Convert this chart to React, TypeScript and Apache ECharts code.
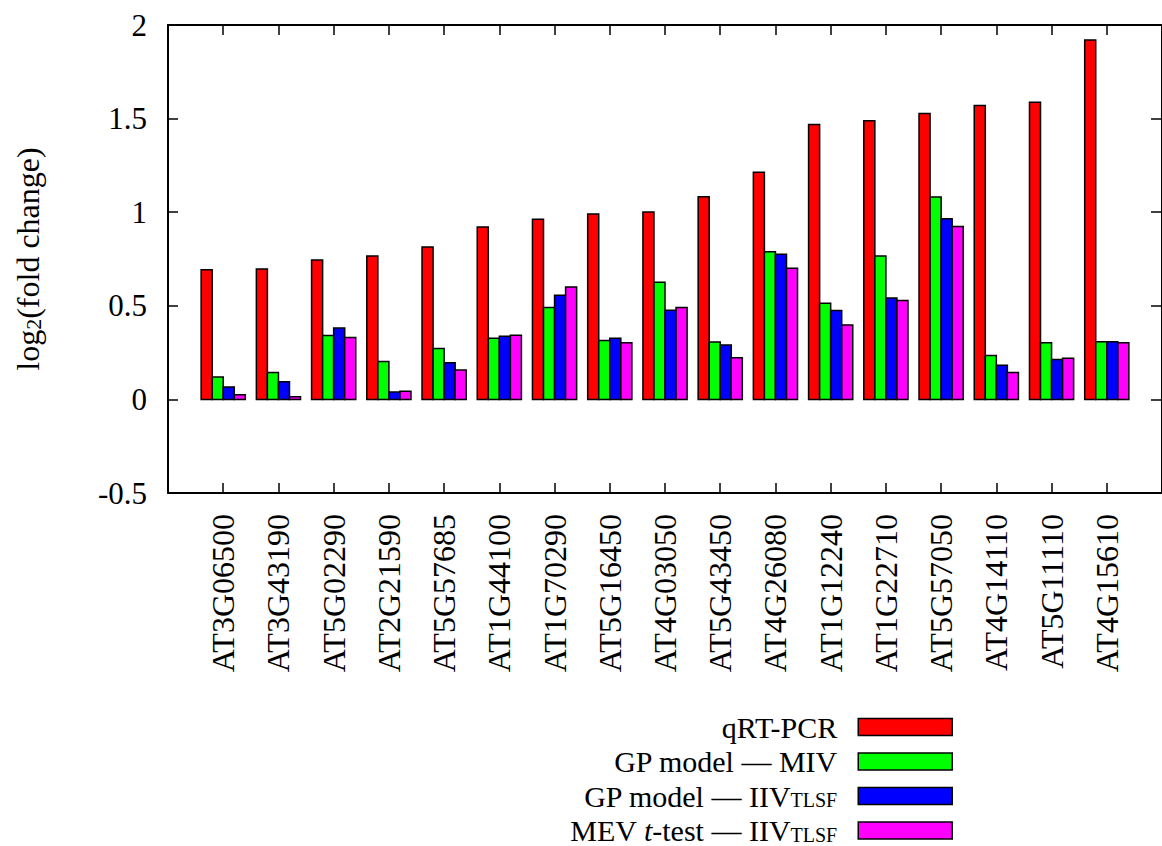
import React, { useEffect, useRef } from "react";
import * as echarts from "echarts";

const categories = [
  "AT3G06500", "AT3G43190", "AT5G02290", "AT2G21590", "AT5G57685", "AT1G44100",
  "AT1G70290", "AT5G16450", "AT4G03050", "AT5G43450", "AT4G26080", "AT1G12240",
  "AT1G22710", "AT5G57050", "AT4G14110", "AT5G11110", "AT4G15610",
];
const qrtPcr = [0.693, 0.697, 0.745, 0.766, 0.814, 0.921, 0.962, 0.99, 1.001, 1.083, 1.214, 1.468, 1.488, 1.527, 1.57, 1.588, 1.92];
const gpMiv = [0.119, 0.144, 0.341, 0.203, 0.272, 0.327, 0.491, 0.315, 0.626, 0.306, 0.789, 0.514, 0.766, 1.081, 0.235, 0.302, 0.308];
const gpIiv = [0.066, 0.094, 0.381, 0.039, 0.196, 0.338, 0.557, 0.327, 0.476, 0.29, 0.775, 0.475, 0.541, 0.965, 0.183, 0.213, 0.308];
const mevIiv = [0.025, 0.014, 0.331, 0.044, 0.157, 0.343, 0.601, 0.302, 0.491, 0.222, 0.7, 0.398, 0.528, 0.924, 0.144, 0.22, 0.302];

const seriesNames = ["qRT-PCR", "GP model — MIV", "GP model — IIV_TLSF", "MEV t-test — IIV_TLSF"];
const seriesRich = [
  "{n|qRT-PCR}",
  "{n|GP model — MIV}",
  "{n|GP model — IIV}{s|TLSF}",
  "{n|MEV }{i|t}{n|-test — IIV}{s|TLSF}",
];
const seriesColors = ["#ff0000", "#00ff00", "#0000ff", "#ff00ff"];
const seriesValues = [qrtPcr, gpMiv, gpIiv, mevIiv];
const barOffsets = [-0.3, -0.1, 0.1, 0.3];
const yTicks = { min: -0.5, max: 2, interval: 0.5 };

const FONT = "Liberation Serif";
const BAR_W = 0.2;

export default function App() {
  const ref = useRef<HTMLDivElement>(null);
  useEffect(() => {
    if (!ref.current) return;
    const chart = echarts.init(ref.current, null, { renderer: "svg" });
    const axisLine = { show: true, onZero: false, lineStyle: { color: "#000", width: 2 } };
    const tick = { show: true, inside: true, length: 10, lineStyle: { color: "#000", width: 1.5 } };
    const series = seriesValues.map((vals, si) => ({
      type: "custom",
      name: seriesNames[si],
      itemStyle: { color: seriesColors[si] },
      data: categories.map((_, i) => [i, vals[i]]),
      encode: { x: 0, y: 1 },
      renderItem: (params: any, api: any) => {
        const idx = api.value(0);
        const v = api.value(1);
        const off = barOffsets[si];
        const p0 = api.coord([idx + off - BAR_W / 2, v]);
        const p1 = api.coord([idx + off + BAR_W / 2, 0]);
        return {
          type: "rect",
          shape: {
            x: p0[0],
            y: Math.min(p0[1], p1[1]),
            width: p1[0] - p0[0],
            height: Math.abs(p1[1] - p0[1]),
          },
          style: { fill: seriesColors[si], stroke: "#000", lineWidth: 1.5 },
        };
      },
    }));
    const option: any = {
      animation: false,
      backgroundColor: "#fff",
      textStyle: { fontFamily: FONT, color: "#000" },
      grid: { left: 168, top: 25, right: -10, bottom: 353, containLabel: false },
      xAxis: [
        {
          type: "value",
          position: "bottom",
          min: -1,
          max: 17,
          interval: 1,
          axisLine,
          axisTick: tick,
          splitLine: { show: false },
          axisLabel: {
            rotate: 90,
            margin: 21,
            fontFamily: FONT,
            fontSize: 32,
            color: "#000",
            showMinLabel: true,
            showMaxLabel: false,
            formatter: (v: number) => {
              const i = Math.round(v);
              return Math.abs(v - i) < 1e-6 && i >= 0 && i < categories.length ? categories[i] : "";
            },
          },
        },
        {
          type: "value",
          position: "top",
          min: -1,
          max: 17,
          interval: 1,
          axisLine,
          axisTick: tick,
          splitLine: { show: false },
          axisLabel: { show: false },
        },
      ],
      yAxis: [
        {
          type: "value",
          position: "left",
          min: yTicks.min,
          max: yTicks.max,
          interval: yTicks.interval,
          axisLine,
          axisTick: tick,
          splitLine: { show: false },
          axisLabel: { margin: 21, fontFamily: FONT, fontSize: 31, color: "#000" },
          name: "{a|log}{s|2}{a|(fold change)}",
          nameLocation: "middle",
          nameRotate: 90,
          nameGap: 124,
          nameTextStyle: {
            fontFamily: FONT,
            color: "#000",
            rich: {
              a: { fontFamily: FONT, fontSize: 32, color: "#000", lineHeight: 32 },
              s: { fontFamily: FONT, fontSize: 22, color: "#000", lineHeight: 14, verticalAlign: "bottom" },
            },
          },
        },
        {
          type: "value",
          position: "right",
          min: yTicks.min,
          max: yTicks.max,
          interval: yTicks.interval,
          axisLine,
          axisTick: { ...tick, length: 11 },
          splitLine: { show: false },
          axisLabel: { show: false },
        },
      ],
      legend: {
        show: true,
        orient: "vertical",
        align: "right",
        right: 209,
        top: 712,
        height: 400,
        padding: 0,
        itemWidth: 94,
        itemHeight: 17,
        itemGap: 4.5,
        icon: "rect",
        itemStyle: { borderColor: "#000", borderWidth: 1.5 },
        data: seriesNames,
        formatter: (name: string) => seriesRich[seriesNames.indexOf(name)],
        textStyle: {
          fontFamily: FONT,
          color: "#000",
          padding: [0, 16, 0, 0],
          rich: {
            n: { fontFamily: FONT, fontSize: 30, color: "#000", lineHeight: 28 },
            i: { fontFamily: FONT, fontSize: 30, color: "#000", lineHeight: 28, fontStyle: "italic" },
            s: { fontFamily: FONT, fontSize: 20, color: "#000", lineHeight: 15, verticalAlign: "bottom" },
          },
        },
      },
      series,
    };
    chart.setOption(option);
    return () => chart.dispose();
  }, []);
  return (
    <div
      ref={ref}
      style={{ position: "fixed", left: 0, top: 0, width: 1162, height: 846, background: "#fff" }}
    />
  );
}
